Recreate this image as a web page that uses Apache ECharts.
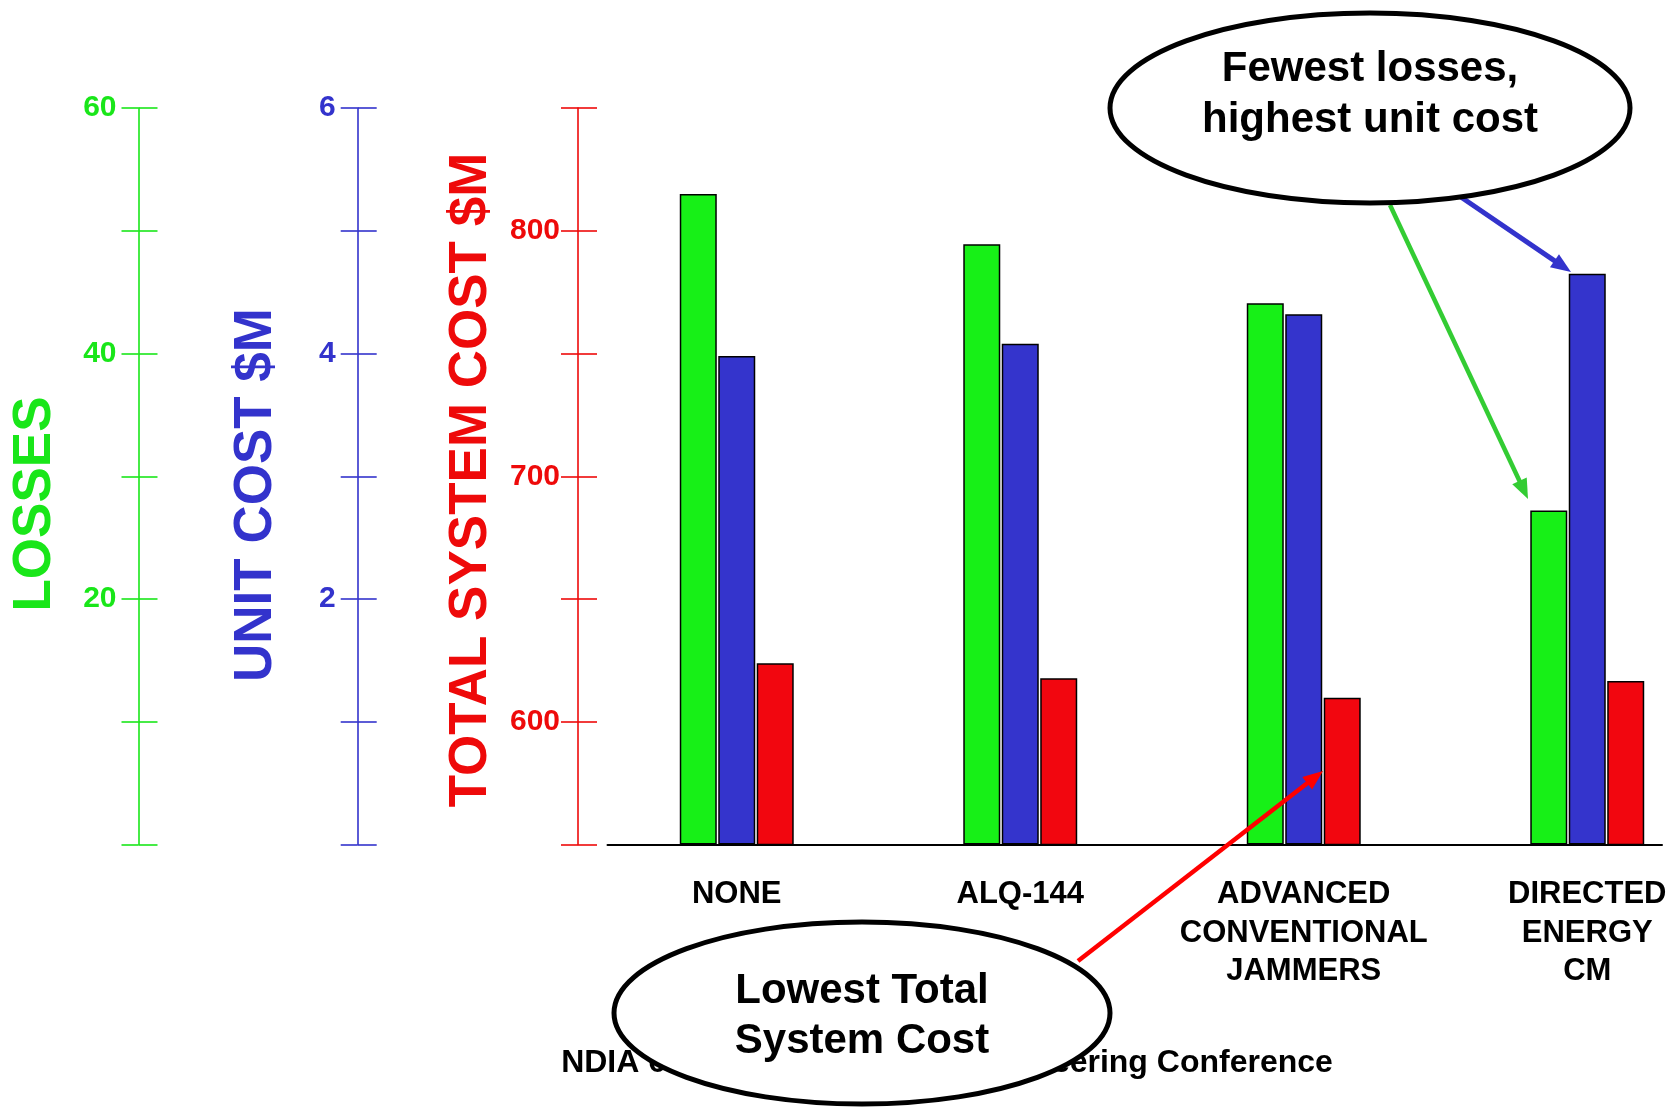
<!DOCTYPE html>
<html>
<head>
<meta charset="utf-8">
<script src="https://cdn.jsdelivr.net/npm/echarts@6/dist/echarts.min.js"></script>
<style>
html,body{margin:0;padding:0;background:#fff;overflow:hidden;width:1674px;height:1112px;}
#main{width:1800px;height:1112px;}
</style>
</head>
<body>
<div id="main"></div>
<script>
// ---- data ----
const categories = ['NONE', 'ALQ-144', 'ADVANCED\nCONVENTIONAL\nJAMMERS', 'DIRECTED\nENERGY\nCM'];
const losses = [53, 48.9, 44.1, 27.2];
const unitCost = [3.98, 4.08, 4.32, 4.65];
const totalCost = [623.8, 617.7, 609.8, 616.6];
const lossesLabels = [20, 40, 60];
const unitCostLabels = [2, 4, 6];
const totalCostLabels = [600, 700, 800];

const FONT = 'Liberation Sans, Arial, Helvetica, sans-serif';
const GREEN = '#17f017', BLUE = '#3434cc', RED = '#f2060f';
const GREEN_AX = '#19e619', BLUE_AX = '#3333cc', RED_AX = '#ee0a0a';

const gridTop = 108, gridH = 736.5, gridLeft = 595;

function valueAxis(color, min, max, interval, labels, xPos, inside, margin) {
  return {
    type: 'value', gridIndex: 0, position: 'left',
    min: min, max: max, interval: interval,
    offset: gridLeft - xPos,
    splitLine: { show: false },
    axisLine: { show: !inside, lineStyle: { color: color, width: 1.6 } },
    axisTick: { show: true, inside: inside, length: inside ? 19 : 17, lineStyle: { color: color, width: 1.6 } },
    axisLabel: {
      show: !inside, margin: margin, color: color,
      fontFamily: FONT, fontWeight: 'bold', fontSize: 30,
      formatter: function (v) { return labels.indexOf(v) >= 0 ? String(v) : ''; }
    }
  };
}

const chart = echarts.init(document.getElementById('main'), null, { renderer: 'canvas' });

function arrow(x1, y1, x2, y2, color, w) {
  const dx = x2 - x1, dy = y2 - y1, len = Math.sqrt(dx * dx + dy * dy);
  const ux = dx / len, uy = dy / len, px = -uy, py = ux;
  const L = 20, W = 16;
  const bx = x2 - ux * L, by = y2 - uy * L;
  return [
    { type: 'line', z: 60, shape: { x1: x1, y1: y1, x2: bx + ux * 2, y2: by + uy * 2 }, style: { stroke: color, lineWidth: w } },
    { type: 'polygon', z: 60, shape: { points: [[x2, y2], [bx + px * W / 2, by + py * W / 2], [bx - px * W / 2, by - py * W / 2]] }, style: { fill: color } }
  ];
}

const graphics = [
  { type: 'text', z: 50, x: 35, y: 504, rotation: Math.PI / 2,
    style: { text: 'LOSSES', fill: GREEN_AX, font: 'bold 53px ' + FONT, align: 'center', verticalAlign: 'middle' } },
  { type: 'text', z: 50, x: 256, y: 495, rotation: Math.PI / 2,
    style: { text: 'UNIT COST $M', fill: BLUE_AX, font: 'bold 53px ' + FONT, align: 'center', verticalAlign: 'middle' } },
  { type: 'text', z: 50, x: 471, y: 480, rotation: Math.PI / 2,
    style: { text: 'TOTAL SYSTEM COST $M', fill: RED_AX, font: 'bold 53px ' + FONT, align: 'center', verticalAlign: 'middle' } },
  { type: 'text', z: 50, x: 947, y: 1063,
    style: { text: 'NDIA 6th Annual Systems Engineering Conference', fill: '#000', font: 'bold 32px ' + FONT, align: 'center', verticalAlign: 'middle' } }
].concat(
  arrow(1078, 961, 1323, 771, '#ff0000', 4.5),
  arrow(1390, 205, 1528, 499, '#33cc33', 4.5),
  arrow(1455, 193, 1571, 272, '#3333cc', 5)
).concat([
  { type: 'ellipse', z: 100, shape: { cx: 1370, cy: 108, rx: 260, ry: 95 }, style: { fill: '#fff', stroke: '#000', lineWidth: 5 } },
  { type: 'text', z: 110, x: 1370, y: 69,
    style: { text: 'Fewest losses,', fill: '#000', font: 'bold 42px ' + FONT, align: 'center', verticalAlign: 'middle' } },
  { type: 'text', z: 110, x: 1370, y: 120,
    style: { text: 'highest unit cost', fill: '#000', font: 'bold 42px ' + FONT, align: 'center', verticalAlign: 'middle' } },
  { type: 'ellipse', z: 100, shape: { cx: 862, cy: 1013, rx: 248, ry: 91 }, style: { fill: '#fff', stroke: '#000', lineWidth: 5 } },
  { type: 'text', z: 110, x: 862, y: 991,
    style: { text: 'Lowest Total', fill: '#000', font: 'bold 42px ' + FONT, align: 'center', verticalAlign: 'middle' } },
  { type: 'text', z: 110, x: 862, y: 1041,
    style: { text: 'System Cost', fill: '#000', font: 'bold 42px ' + FONT, align: 'center', verticalAlign: 'middle' } }
]);

const option = {
  backgroundColor: '#fff',
  animation: false,
  grid: [
    { left: gridLeft, top: gridTop, width: 1134, height: gridH, containLabel: false },
    { left: 607.5, top: gridTop, width: 1054.5, height: gridH, containLabel: false }
  ],
  xAxis: [
    {
      type: 'category', gridIndex: 0, data: categories,
      axisLine: { show: false }, axisTick: { show: false },
      axisLabel: { margin: 31, color: '#000', fontFamily: FONT, fontWeight: 'bold', fontSize: 31, lineHeight: 38.4, interval: 0 }
    },
    {
      type: 'category', gridIndex: 1, data: [''],
      axisLine: { show: true, lineStyle: { color: '#000', width: 2 } },
      axisTick: { show: false }, axisLabel: { show: false }
    }
  ],
  yAxis: [
    valueAxis(GREEN_AX, 0, 60, 10, lossesLabels, 138.5, false, 22),
    valueAxis(BLUE_AX, 0, 6, 1, unitCostLabels, 357.7, false, 22),
    valueAxis(RED_AX, 550, 850, 50, totalCostLabels, 578, false, 18),
    valueAxis(GREEN_AX, 0, 60, 10, lossesLabels, 138.5, true, 22),
    valueAxis(BLUE_AX, 0, 6, 1, unitCostLabels, 357.7, true, 22),
    valueAxis(RED_AX, 550, 850, 50, totalCostLabels, 578, true, 18),
    { type: 'value', gridIndex: 1, show: false }
  ],
  series: [
    { name: 'LOSSES', type: 'bar', xAxisIndex: 0, yAxisIndex: 0, data: losses, barWidth: 37, barGap: '4%',
      itemStyle: { color: GREEN, borderColor: '#000', borderWidth: 1.5 } },
    { name: 'UNIT COST $M', type: 'bar', xAxisIndex: 0, yAxisIndex: 1, data: unitCost, barWidth: 37, barGap: '4%',
      itemStyle: { color: BLUE, borderColor: '#000', borderWidth: 1.5 } },
    { name: 'TOTAL SYSTEM COST $M', type: 'bar', xAxisIndex: 0, yAxisIndex: 2, data: totalCost, barWidth: 37, barGap: '4%',
      itemStyle: { color: RED, borderColor: '#000', borderWidth: 1.5 } }
  ],
  graphic: graphics
};
chart.setOption(option);
</script>
</body>
</html>
